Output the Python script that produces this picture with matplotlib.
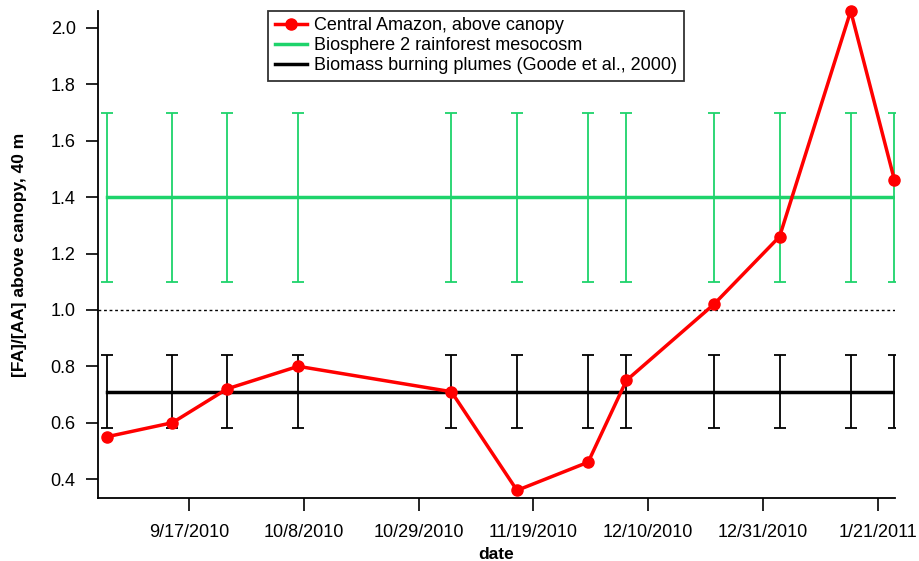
import matplotlib.pyplot as plt
import numpy as np
import pandas as pd

dates = pd.to_datetime(['2010-09-02', '2010-09-14', '2010-09-24', '2010-10-07', '2010-11-04',
                        '2010-11-16', '2010-11-29', '2010-12-06', '2010-12-22', '2011-01-03',
                        '2011-01-16', '2011-01-24'])
amazon = [0.55, 0.60, 0.72, 0.80, 0.71, 0.36, 0.46, 0.75, 1.02, 1.26, 2.06, 1.46]
bio2_mean, bio2_err = 1.4, 0.3
burn_mean, burn_err = 0.71, 0.13
tick_dates = pd.to_datetime(['2010-09-17', '2010-10-08', '2010-10-29', '2010-11-19',
                             '2010-12-10', '2010-12-31', '2011-01-21'])
tick_labels = ['9/17/2010', '10/8/2010', '10/29/2010', '11/19/2010', '12/10/2010',
               '12/31/2010', '1/21/2011']

plt.rcParams['font.family'] = ['Liberation Sans', 'DejaVu Sans']
fig = plt.figure(figsize=(9.19, 5.61), dpi=100)
ax = fig.add_axes([0.1066, 0.1123, 0.8673, 0.8681])

n = len(dates)
green = '#1ed36b'
ax.errorbar(dates, np.full(n, bio2_mean), yerr=bio2_err, color=green, lw=2.5,
            elinewidth=1.3, capsize=4, capthick=1.3, zorder=2)
ax.errorbar(dates, np.full(n, burn_mean), yerr=burn_err, color='black', lw=2.5,
            elinewidth=1.3, capsize=4, capthick=1.3, zorder=2)
ax.axhline(1.0, color='black', lw=1, ls=(0, (2, 2)), zorder=1)
red_line, = ax.plot(dates, amazon, color='#ff0000', lw=2.5, marker='o', ms=8,
                    zorder=3, clip_on=False)

ax.set_xlim(dates[0] - pd.Timedelta(days=1.6), dates[-1] + pd.Timedelta(days=0.1))
ax.set_ylim(0.333, 2.06)
ax.set_xticks(tick_dates)
ax.set_xticklabels(tick_labels)
ax.set_yticks([0.4, 0.6, 0.8, 1.0, 1.2, 1.4, 1.6, 1.8, 2.0])
ax.set_yticklabels(['0.4', '0.6', '0.8', '1.0', '1.2', '1.4', '1.6', '1.8', '2.0'])
ax.tick_params(direction='out', length=9, width=1.2, labelsize=13, pad=7)
ax.tick_params(axis='x', pad=10)
for s in ['top', 'right']:
    ax.spines[s].set_visible(False)
for s in ['left', 'bottom']:
    ax.spines[s].set_linewidth(1.3)

ax.set_xlabel('date', fontsize=12.5, fontweight='bold', labelpad=4)
ax.set_ylabel('[FA]/[AA] above canopy, 40 m', fontsize=12.5, fontweight='bold', labelpad=17)

handles = [red_line,
           plt.Line2D([], [], color=green, lw=2.5),
           plt.Line2D([], [], color='black', lw=2.5)]
labels = ['Central Amazon, above canopy', 'Biosphere 2 rainforest mesocosm',
          'Biomass burning plumes (Goode et al., 2000)']
leg = ax.legend(handles, labels, loc='upper left',
                bbox_to_anchor=(0.292, 0.981), bbox_transform=fig.transFigure,
                fontsize=13, frameon=True, fancybox=False, borderpad=0.35,
                labelspacing=0.18, handlelength=1.8, handletextpad=0.4, borderaxespad=0)
leg.get_frame().set_edgecolor('black')
leg.get_frame().set_linewidth(1.3)

fig.savefig('out.png', dpi=100)
